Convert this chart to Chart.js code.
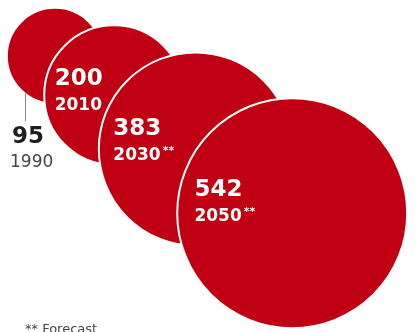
<!DOCTYPE html>
<html>
<head>
<meta charset="utf-8">
<script src="https://cdn.jsdelivr.net/npm/chart.js@4"></script>
<style>
  body { margin: 0; background: #fff; }
  canvas { display: block; }
</style>
</head>
<body>
<canvas id="chart" width="417" height="332"></canvas>
<script>
const years = ['1990', '2010', '2030', '2050'];
const values = [95, 200, 383, 542];
const forecast = [false, false, true, true];

const RED = '#c00012';
const MAX_R = 115;
const maxVal = Math.max(...values);

// bubble area proportional to value
const radius = v => MAX_R * Math.sqrt(v / maxVal);

// each bubble's edge passes (almost) through the previous bubble's centre,
// stepping down-right along one diagonal
const angle = Math.atan2(157, 237);
const bubbles = [];
let cx = 55, cy = 56;
values.forEach((v, i) => {
  const r = radius(v);
  if (i > 0) {
    cx += (r + 1) * Math.cos(angle);
    cy += (r + 1) * Math.sin(angle);
  }
  bubbles.push({ x: cx, y: cy, r: r });
});

const labelPlugin = {
  id: 'bubbleLabels',
  afterDatasetsDraw(chart) {
    const ctx = chart.ctx;
    const pts = chart.getDatasetMeta(0).data;
    ctx.save();
    ctx.textBaseline = 'alphabetic';
    ctx.textAlign = 'left';
    pts.forEach((p, i) => {
      const r = p.options.radius;
      if (i === 0) {
        // first bubble is labelled underneath with a leader line
        ctx.strokeStyle = '#8a8a8a';
        ctx.lineWidth = 1;
        ctx.beginPath();
        ctx.moveTo(Math.round(p.x - 30) + 0.5, p.y + 37);
        ctx.lineTo(Math.round(p.x - 30) + 0.5, p.y + 65);
        ctx.stroke();
        ctx.fillStyle = '#1e1e1e';
        ctx.font = 'bold 23px "DejaVu Sans"';
        ctx.fillText(String(values[i]), p.x - 43, p.y + 87);
        ctx.fillStyle = '#444';
        ctx.font = '17px "DejaVu Sans"';
        ctx.fillText(years[i], p.x - 45, p.y + 111);
        return;
      }
      const lx = p.x - 0.85 * r;
      const by = p.y - 0.15 * r;
      ctx.fillStyle = '#fff';
      ctx.font = 'bold 23px "DejaVu Sans"';
      ctx.fillText(String(values[i]), lx, by);
      ctx.font = 'bold 17px "DejaVu Sans"';
      ctx.fillText(years[i], lx, by + 25);
      if (forecast[i]) {
        const w = ctx.measureText(years[i]).width;
        ctx.font = 'bold 11px "DejaVu Sans"';
        ctx.fillText('**', lx + w + 2, by + 19);
      }
    });
    ctx.fillStyle = '#444';
    ctx.font = '13px "DejaVu Sans"';
    ctx.fillText('** Forecast', 25, 333);
    ctx.restore();
  }
};

new Chart(document.getElementById('chart'), {
  type: 'bubble',
  data: {
    datasets: [{
      data: bubbles,
      backgroundColor: RED,
      borderColor: '#fff',
      borderWidth: 2,
      hoverRadius: 0,
      clip: false
    }]
  },
  options: {
    responsive: false,
    animation: false,
    events: [],
    layout: { autoPadding: false, padding: 0 },
    plugins: {
      legend: { display: false },
      tooltip: { enabled: false }
    },
    scales: {
      x: { type: 'linear', min: 0, max: 417, display: false },
      y: { type: 'linear', min: 0, max: 332, reverse: true, display: false }
    }
  },
  plugins: [labelPlugin]
});
</script>
</body>
</html>
